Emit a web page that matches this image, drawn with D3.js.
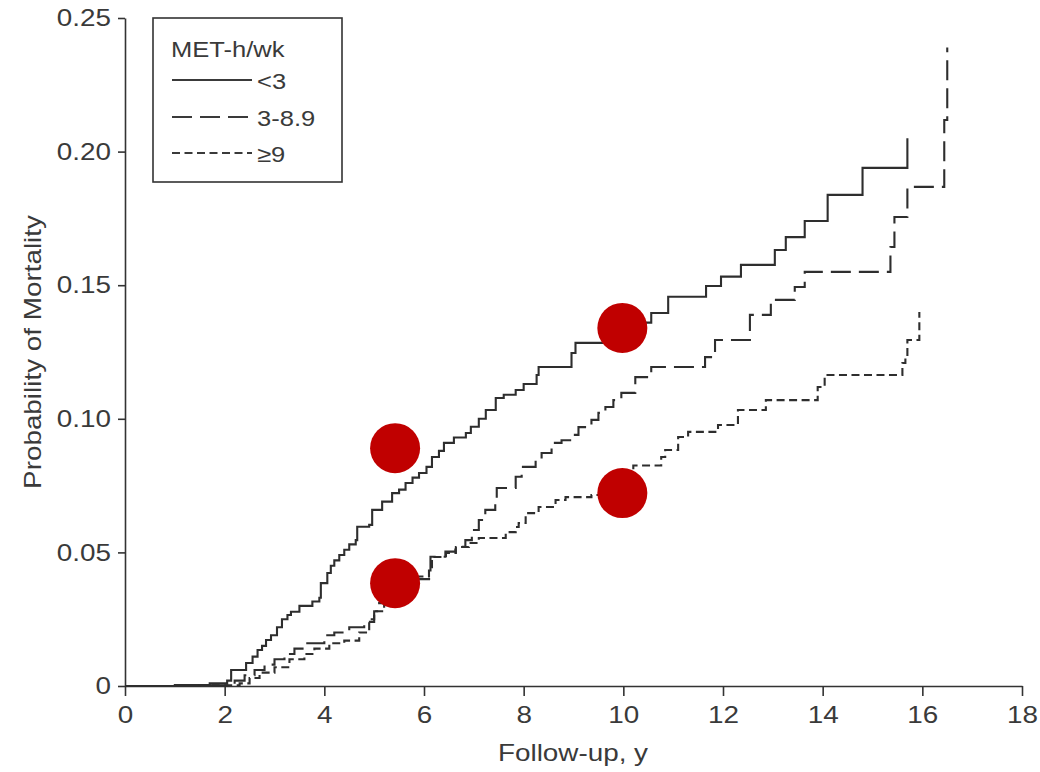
<!DOCTYPE html>
<html><head><meta charset="utf-8">
<script src="https://cdn.jsdelivr.net/npm/d3@7"></script>
<style>
body{margin:0;background:#fff;}
svg{display:block;}
text{font-family:"Liberation Sans", Arial, Helvetica, sans-serif;fill:#3a3a3a;}
</style>
</head><body>
<svg id="chart" width="1040" height="772"></svg>
<script>
// ---- data ----
const xTicks = [0, 2, 4, 6, 8, 10, 12, 14, 16, 18];
const yTicks = [0, 0.05, 0.10, 0.15, 0.20, 0.25];
const yTickLabels = ["0", "0.05", "0.10", "0.15", "0.20", "0.25"];
const legendTitle = "MET-h/wk";
const seriesNames = ["<3", "3-8.9", "\u22659"];

const timesLow = [0, 1.0, 1.7, 2.05, 2.13, 2.43, 2.56, 2.66, 2.75, 2.83, 2.93, 3.05, 3.15, 3.26, 3.33, 3.5, 3.76, 3.9, 3.93, 4.06, 4.13, 4.2, 4.3, 4.4, 4.5, 4.63, 4.66, 4.9, 4.96, 5.16, 5.36, 5.5, 5.63, 5.77, 5.9, 6.05, 6.16, 6.3, 6.4, 6.6, 6.84, 6.94, 7.1, 7.24, 7.44, 7.6, 7.84, 8.0, 8.26, 8.3, 8.96, 9.04, 9.6, 9.8, 10.1, 10.42, 10.56, 10.9, 11.66, 11.96, 12.36, 13.04, 13.26, 13.64, 14.1, 14.8, 15.7];
const probLow = [0, 0.0004, 0.001, 0.002, 0.006, 0.0086, 0.011, 0.0135, 0.015, 0.0172, 0.019, 0.022, 0.025, 0.0266, 0.0278, 0.030, 0.0316, 0.033, 0.0385, 0.0423, 0.045, 0.047, 0.049, 0.051, 0.053, 0.0546, 0.0596, 0.0603, 0.0659, 0.069, 0.0722, 0.0735, 0.076, 0.078, 0.0797, 0.082, 0.0857, 0.088, 0.091, 0.093, 0.0947, 0.097, 0.100, 0.1033, 0.1078, 0.109, 0.1108, 0.113, 0.1164, 0.1194, 0.1246, 0.1284, 0.130, 0.1325, 0.134, 0.136, 0.1396, 0.1457, 0.1497, 0.1532, 0.1576, 0.1632, 0.168, 0.174, 0.1838, 0.1939, 0.205];

const timesMid = [0, 1.5, 2.2, 2.4, 2.6, 2.8, 3.0, 3.2, 3.4, 3.6, 4.0, 4.2, 4.5, 4.8, 5.0, 5.1, 5.2, 5.5, 5.8, 6.13, 6.43, 6.63, 6.83, 6.96, 7.1, 7.23, 7.43, 7.46, 7.84, 7.96, 8.24, 8.36, 8.56, 8.76, 8.96, 9.1, 9.36, 9.5, 9.64, 9.8, 9.96, 10.24, 10.56, 11.64, 11.84, 12.54, 12.96, 13.44, 13.64, 15.36, 15.44, 15.7, 16.44, 16.5];
const probMid = [0, 0.0003, 0.002, 0.004, 0.006, 0.008, 0.010, 0.012, 0.014, 0.016, 0.019, 0.020, 0.022, 0.024, 0.028, 0.031, 0.034, 0.037, 0.040, 0.0484, 0.0503, 0.0521, 0.0546, 0.0584, 0.0621, 0.0659, 0.0685, 0.0741, 0.0783, 0.082, 0.0846, 0.0872, 0.091, 0.092, 0.094, 0.0969, 0.0996, 0.1022, 0.1044, 0.107, 0.1097, 0.1156, 0.1194, 0.1231, 0.1295, 0.1389, 0.1445, 0.1493, 0.155, 0.1643, 0.1755, 0.1868, 0.2118, 0.239];

const timesHigh = [0, 1.5, 2.3, 2.5, 2.7, 3.0, 3.3, 3.6, 3.8, 4.1, 4.4, 4.7, 4.9, 5.0, 5.2, 5.5, 5.8, 6.1, 6.16, 6.44, 6.64, 6.9, 7.1, 7.64, 7.84, 7.9, 8.04, 8.3, 8.64, 8.84, 9.36, 10.2, 10.76, 10.84, 11.1, 11.3, 11.9, 12.3, 12.86, 13.9, 14.04, 15.6, 15.66, 15.7, 15.94];
const probHigh = [0, 0.0003, 0.001, 0.003, 0.005, 0.007, 0.010, 0.012, 0.014, 0.016, 0.017, 0.020, 0.025, 0.028, 0.033, 0.037, 0.041, 0.0445, 0.0483, 0.0498, 0.052, 0.0535, 0.0554, 0.0576, 0.0595, 0.061, 0.0647, 0.067, 0.0696, 0.0707, 0.0715, 0.0825, 0.0857, 0.0883, 0.0932, 0.0951, 0.0977, 0.1033, 0.107, 0.1119, 0.1164, 0.1209, 0.1231, 0.1295, 0.14];

const markerTimes = [5.42, 5.42, 9.98, 9.98];
const markerProbs = [0.089, 0.0385, 0.134, 0.0722];

// ---- layout ----
const svg = d3.select("#chart");
const x = d3.scaleLinear().domain([0, 18]).range([125, 1022]);
const y = d3.scaleLinear().domain([0, 0.25]).range([686, 18]);
const ink = "#333";
const STRETCH = 1.16;

// axes
const gx = svg.append("g").attr("transform", `translate(0,${y(0)})`)
  .call(d3.axisBottom(x).tickValues(xTicks).tickSize(10).tickSizeOuter(0).tickPadding(10).tickFormat(d3.format("d")));
const gy = svg.append("g").attr("transform", `translate(${x(0)},0)`)
  .call(d3.axisLeft(y).tickValues(yTicks).tickSize(7).tickSizeOuter(0).tickPadding(7).tickFormat((d, i) => yTickLabels[i]));
[gx, gy].forEach(g => {
  g.select(".domain").attr("stroke", ink).attr("stroke-width", 1.6);
  g.selectAll(".tick line").attr("stroke", ink).attr("stroke-width", 1.6);
  g.selectAll(".tick text").attr("font-size", 24).attr("fill", "#3a3a3a")
    .attr("font-family", '"Liberation Sans", Arial, sans-serif');
});

// axis titles
svg.append("text").attr("x", 573).attr("y", 761).attr("text-anchor", "middle")
  .attr("font-size", 24).text("Follow-up, y");
svg.append("text").attr("transform", "translate(41,352) rotate(-90)").attr("text-anchor", "middle")
  .attr("font-size", 24).text("Probability of Mortality");

// curves
const line = d3.line().x(d => x(d[0])).y(d => y(d[1])).curve(d3.curveStepAfter);
const series = [
  {t: timesLow, p: probLow, dash: null},
  {t: timesMid, p: probMid, dash: "20,8"},
  {t: timesHigh, p: probHigh, dash: "8,4.5"}
];
series.forEach(s => {
  const pts = s.t.map((t, i) => [t, s.p[i]]);
  svg.append("path").datum(pts).attr("d", line)
    .attr("fill", "none").attr("stroke", "#2e2e2e").attr("stroke-width", 2.1)
    .attr("stroke-dasharray", s.dash);
});

// legend
const lg = svg.append("g");
lg.append("rect").attr("x", 153).attr("y", 18).attr("width", 189).attr("height", 164)
  .attr("fill", "#fff").attr("stroke", ink).attr("stroke-width", 1.6);
lg.append("text").attr("x", 171).attr("y", 57).attr("font-size", 22).text(legendTitle);
const legY = [80, 117, 153];
series.forEach((s, i) => {
  lg.append("line").attr("x1", 172).attr("x2", 252).attr("y1", legY[i]).attr("y2", legY[i])
    .attr("stroke", "#3a3a3a").attr("stroke-width", 2).attr("stroke-dasharray", s.dash);
  lg.append("text").attr("x", 257).attr("y", legY[i] + 9).attr("font-size", 22).text(seriesNames[i]);
});

// markers
svg.append("g").selectAll("circle").data(markerTimes).join("circle")
  .attr("cx", d => x(d)).attr("cy", (d, i) => y(markerProbs[i])).attr("r", 25)
  .attr("fill", "#c00000");

// the reference typeface is horizontally wide: stretch every label a little
svg.selectAll("text").each(function() {
  const w = this.getComputedTextLength();
  d3.select(this).attr("textLength", w * STRETCH).attr("lengthAdjust", "spacingAndGlyphs");
});
</script>
</body></html>
